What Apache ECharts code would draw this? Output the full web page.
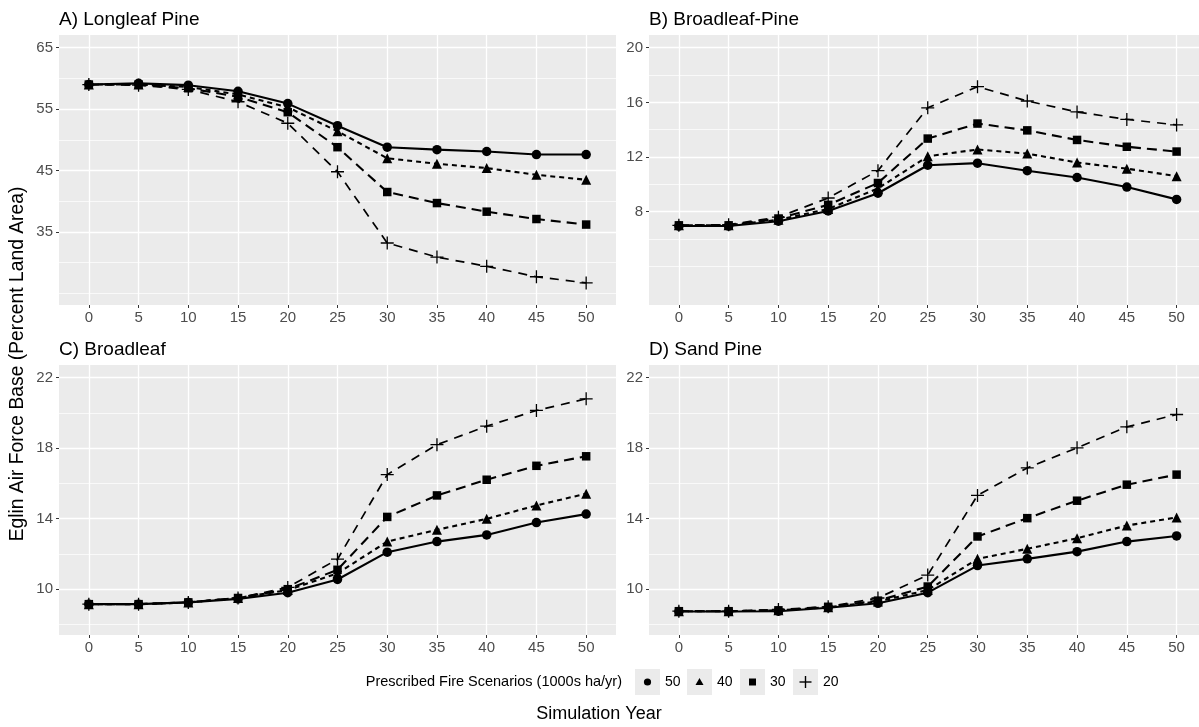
<!DOCTYPE html>
<html>
<head>
<meta charset="utf-8">
<script src="https://cdn.jsdelivr.net/npm/echarts@6/dist/echarts.min.js"></script>
<style>
html,body{margin:0;padding:0;background:#ffffff;}
#chart{width:1199px;height:727px;}
</style>
</head>
<body>
<div id="chart"></div>
<script>
// ---------------- data ----------------
const years = [0, 5, 10, 15, 20, 25, 30, 35, 40, 45, 50];
const scenarios = ['50', '40', '30', '20'];
const panelTitles = ['A) Longleaf Pine', 'B) Broadleaf-Pine', 'C) Broadleaf', 'D) Sand Pine'];
const legendTitle = 'Prescribed Fire Scenarios (1000s ha/yr)';
const xAxisTitle = 'Simulation Year';
const yAxisTitle = 'Eglin Air Force Base (Percent Land Area)';

// A) Longleaf Pine
const longleaf50 = [59.0, 59.2, 58.9, 57.9, 55.9, 52.3, 48.8, 48.4, 48.1, 47.6, 47.6];
const longleaf40 = [59.0, 59.0, 58.6, 57.4, 55.3, 51.4, 47.0, 46.1, 45.4, 44.3, 43.5];
const longleaf30 = [59.0, 59.0, 58.4, 57.0, 54.5, 48.8, 41.5, 39.7, 38.3, 37.1, 36.2];
const longleaf20 = [59.0, 58.9, 58.2, 56.2, 52.7, 44.8, 33.2, 30.9, 29.4, 27.7, 26.7];

// B) Broadleaf-Pine
const brPine50 = [6.95, 6.95, 7.3, 8.05, 9.35, 11.4, 11.55, 11.0, 10.5, 9.8, 8.9];
const brPine40 = [7.0, 7.0, 7.4, 8.2, 9.7, 12.05, 12.55, 12.25, 11.6, 11.15, 10.6];
const brPine30 = [7.0, 7.0, 7.5, 8.5, 10.1, 13.35, 14.45, 13.95, 13.25, 12.75, 12.4];
const brPine20 = [7.0, 7.05, 7.6, 9.0, 11.0, 15.6, 17.15, 16.1, 15.3, 14.75, 14.35];

// C) Broadleaf
const broadleaf50 = [9.15, 9.15, 9.25, 9.45, 9.8, 10.55, 12.1, 12.7, 13.08, 13.78, 14.26];
const broadleaf40 = [9.15, 9.15, 9.25, 9.5, 9.95, 10.9, 12.7, 13.37, 13.99, 14.75, 15.42];
const broadleaf30 = [9.15, 9.15, 9.25, 9.5, 10.0, 11.1, 14.1, 15.32, 16.21, 17.0, 17.54];
const broadleaf20 = [9.15, 9.15, 9.25, 9.5, 10.1, 11.7, 16.5, 18.2, 19.25, 20.14, 20.8];

// D) Sand Pine
const sandPine50 = [8.73, 8.73, 8.75, 8.95, 9.2, 9.8, 11.34, 11.72, 12.13, 12.7, 13.02];
const sandPine40 = [8.75, 8.75, 8.8, 8.97, 9.3, 9.95, 11.72, 12.29, 12.89, 13.61, 14.07];
const sandPine30 = [8.75, 8.75, 8.8, 9.0, 9.35, 10.15, 12.99, 14.03, 15.02, 15.93, 16.5];
const sandPine20 = [8.75, 8.75, 8.85, 9.0, 9.5, 10.8, 15.32, 16.88, 18.02, 19.21, 19.91];

// axis ticks
const xTickValues = [0, 5, 10, 15, 20, 25, 30, 35, 40, 45, 50];
const yMajorTicks = [[35, 45, 55, 65], [8, 12, 16, 20], [10, 14, 18, 22], [10, 14, 18, 22]];
const yMinorTicks = [[25, 30, 40, 50, 60], [4, 6, 10, 14, 18], [8, 12, 16, 20], [8, 12, 16, 20]];
const yRanges = [[23.1, 67.07], [1.17, 20.93], [7.4, 22.72], [7.4, 22.72]];
const xRanges = [[-3, 53], [-3, 52.25], [-3, 53], [-3, 52.25]];

const panelSeries = [
  [longleaf50, longleaf40, longleaf30, longleaf20],
  [brPine50, brPine40, brPine30, brPine20],
  [broadleaf50, broadleaf40, broadleaf30, broadleaf20],
  [sandPine50, sandPine40, sandPine30, sandPine20]
];

// ---------------- styling ----------------
const FONT = "'Liberation Sans', Arial, Helvetica, sans-serif";
const PLUS = 'path://M-0.1,-1 L0.1,-1 L0.1,-0.1 L1,-0.1 L1,0.1 L0.1,0.1 L0.1,1 L-0.1,1 L-0.1,0.1 L-1,0.1 L-1,-0.1 L-0.1,-0.1 Z';
const scenarioStyle = {
  '50': { symbol: 'circle', size: 9.5, dash: 'solid', width: 2.1 },
  '40': { symbol: 'triangle', size: 10, dash: [5, 4], width: 2.1 },
  '30': { symbol: 'rect', size: 8.5, dash: [10, 6], width: 2.1 },
  '20': { symbol: PLUS, size: 13, dash: [9, 7], width: 1.7 }
};
const gridRects = [
  { left: 59, top: 35, width: 557, height: 270 },
  { left: 649, top: 35, width: 550, height: 270 },
  { left: 59, top: 365, width: 557, height: 270 },
  { left: 649, top: 365, width: 550, height: 270 }
];

const grids = [], xAxes = [], yAxes = [], series = [], graphics = [];

gridRects.forEach((r, i) => {
  grids.push(Object.assign({
    show: true, backgroundColor: '#ebebeb', borderWidth: 0,
    containLabel: false, outerBoundsMode: 'none'
  }, r));

  xAxes.push({
    type: 'value', gridIndex: i, position: 'bottom', min: xRanges[i][0], max: xRanges[i][1],
    axisLine: { show: false, onZero: false },
    axisTick: { show: true, length: 3, customValues: xTickValues, lineStyle: { color: '#333333', width: 1 } },
    axisLabel: { show: true, customValues: xTickValues, margin: 5, color: '#4d4d4d', fontSize: 15, fontFamily: FONT },
    splitLine: { show: true, lineStyle: { color: '#ffffff', width: 1.3 } }
  });

  // major y axis
  yAxes.push({
    type: 'value', gridIndex: i, position: 'left', min: yRanges[i][0], max: yRanges[i][1],
    axisLine: { show: false, onZero: false },
    axisTick: { show: true, length: 3, customValues: yMajorTicks[i], lineStyle: { color: '#333333', width: 1 } },
    axisLabel: { show: true, customValues: yMajorTicks[i], margin: 6, color: '#4d4d4d', fontSize: 15, fontFamily: FONT },
    splitLine: { show: true, lineStyle: { color: '#ffffff', width: 1.3 } }
  });
  // minor y gridlines
  yAxes.push({
    type: 'value', gridIndex: i, position: 'left', min: yRanges[i][0], max: yRanges[i][1],
    axisLine: { show: false, onZero: false },
    axisTick: { show: false, customValues: yMinorTicks[i] },
    axisLabel: { show: false, customValues: yMinorTicks[i] },
    splitLine: { show: true, lineStyle: { color: '#ffffff', width: 0.7 } }
  });

  // series (draw 20 first, 50 last on top)
  for (let s = scenarios.length - 1; s >= 0; s--) {
    const key = scenarios[s];
    const st = scenarioStyle[key];
    const vals = panelSeries[i][s];
    series.push({
      type: 'line', name: key, xAxisIndex: i, yAxisIndex: i * 2,
      data: years.map((yr, k) => [yr, vals[k]]),
      symbol: st.symbol, symbolSize: st.size, showSymbol: true,
      lineStyle: { color: '#000000', width: st.width, type: st.dash },
      itemStyle: { color: '#000000', borderWidth: 0 },
      emphasis: { disabled: true },
      silent: true, animation: false
    });
  }

  // panel title
  graphics.push({
    type: 'text', x: r.left, y: r.top - 15,
    style: { text: panelTitles[i], font: '19px ' + FONT, fill: '#000000', textAlign: 'left', textVerticalAlign: 'middle' }
  });
});

// axis titles
graphics.push({
  type: 'text', x: 18, y: 364, rotation: Math.PI / 2,
  style: { text: yAxisTitle, font: '19.3px ' + FONT, fill: '#000000', textAlign: 'center', textVerticalAlign: 'middle' }
});
graphics.push({
  type: 'text', x: 599, y: 714,
  style: { text: xAxisTitle, font: '18px ' + FONT, fill: '#000000', textAlign: 'center', textVerticalAlign: 'middle' }
});

// legend
const legendY = 682;
graphics.push({
  type: 'text', x: 622, y: legendY,
  style: { text: legendTitle, font: '14.5px ' + FONT, fill: '#000000', textAlign: 'right', textVerticalAlign: 'middle' }
});
const keyLeft = [635, 687, 740, 793];
scenarios.forEach((key, k) => {
  const bx = keyLeft[k], cx = bx + 12.5;
  graphics.push({ type: 'rect', shape: { x: bx, y: legendY - 13, width: 25, height: 26 }, style: { fill: '#ebebeb' } });
  if (key === '50') {
    graphics.push({ type: 'circle', shape: { cx: cx, cy: legendY, r: 3.6 }, style: { fill: '#000' } });
  } else if (key === '40') {
    graphics.push({ type: 'polygon', shape: { points: [[cx, legendY - 4], [cx + 4, legendY + 3], [cx - 4, legendY + 3]] }, style: { fill: '#000' } });
  } else if (key === '30') {
    graphics.push({ type: 'rect', shape: { x: cx - 3.5, y: legendY - 3.5, width: 7, height: 7 }, style: { fill: '#000' } });
  } else {
    graphics.push({ type: 'line', shape: { x1: cx - 6, y1: legendY, x2: cx + 6, y2: legendY }, style: { stroke: '#000', lineWidth: 1.4 } });
    graphics.push({ type: 'line', shape: { x1: cx, y1: legendY - 6, x2: cx, y2: legendY + 6 }, style: { stroke: '#000', lineWidth: 1.4 } });
  }
  graphics.push({
    type: 'text', x: bx + 30, y: legendY,
    style: { text: key, font: '14px ' + FONT, fill: '#000000', textAlign: 'left', textVerticalAlign: 'middle' }
  });
});

const chart = echarts.init(document.getElementById('chart'), null, { renderer: 'canvas' });
chart.setOption({
  animation: false,
  backgroundColor: '#ffffff',
  grid: grids,
  xAxis: xAxes,
  yAxis: yAxes,
  series: series,
  graphic: graphics
});
</script>
</body>
</html>
